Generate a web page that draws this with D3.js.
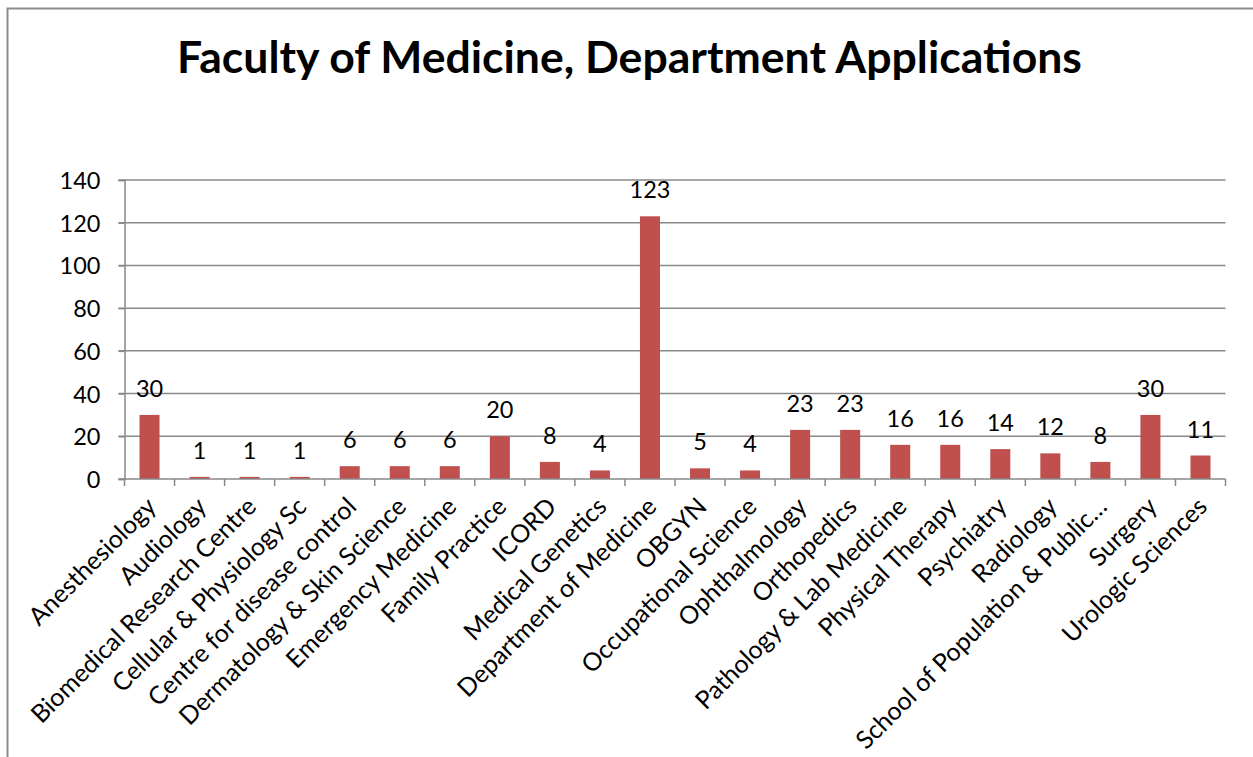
<!DOCTYPE html>
<html>
<head>
<meta charset="utf-8">
<script src="https://cdn.jsdelivr.net/npm/d3@7"></script>
<style>
  html, body { margin: 0; padding: 0; background: #fff; }
  svg { display: block; }
</style>
</head>
<body>
<svg id="chart" width="1253" height="757"></svg>
<script>
const titleText = "Faculty of Medicine, Department Applications";
const categories = [
  "Anesthesiology", "Audiology", "Biomedical Research Centre", "Cellular & Physiology Sc",
  "Centre for disease control", "Dermatology & Skin Science", "Emergency Medicine",
  "Family Practice", "ICORD", "Medical Genetics", "Department of Medicine", "OBGYN",
  "Occupational Science", "Ophthalmology", "Orthopedics", "Pathology & Lab Medicine",
  "Physical Therapy", "Psychiatry", "Radiology", "School of Population & Public…",
  "Surgery", "Urologic Sciences"
];
const values = [30, 1, 1, 1, 6, 6, 6, 20, 8, 4, 123, 5, 4, 23, 23, 16, 16, 14, 12, 8, 30, 11];
const yTicks = [0, 20, 40, 60, 80, 100, 120, 140];

(function () {
const svg = d3.select("#chart");
const font = "Lato, 'Open Sans', sans-serif";
const gridColor = "#898989";
const barColor = "#C0504D";

// outer border
svg.append("rect")
  .attr("x", 7.5).attr("y", 8.5).attr("width", 1260).attr("height", 770)
  .attr("fill", "none").attr("stroke", "#8c8c8c").attr("stroke-width", 2);

const pLeft = 124.5, pRight = 1225.5, pTop = 180, pBottom = 479;
const x = d3.scaleBand().domain(categories).range([pLeft, pRight]).paddingInner(0.6).paddingOuter(0.3);
const xb = d3.scaleBand().domain(categories).range([pLeft, pRight]).padding(0);
const y = d3.scaleLinear().domain([0, 140]).range([pBottom, pTop]);

// gridlines
svg.append("g").selectAll("line").data(yTicks.filter(d => d > 0)).join("line")
  .attr("x1", pLeft - 6).attr("x2", pRight)
  .attr("y1", d => y(d)).attr("y2", d => y(d))
  .attr("stroke", gridColor).attr("stroke-width", 1.5);

// y axis
const yAxis = svg.append("g").attr("transform", `translate(${pLeft},0)`)
  .call(d3.axisLeft(y).tickValues(yTicks).tickSize(6).tickPadding(18).tickFormat(d3.format("d")));
yAxis.select(".domain").attr("stroke", gridColor).attr("stroke-width", 1.5);
yAxis.selectAll(".tick line").attr("stroke", gridColor).attr("stroke-width", 1.5);
yAxis.selectAll(".tick text").attr("font-family", font).attr("font-size", 23.5).attr("fill", "#000")
  .attr("dy", "0.36em");

// bars
svg.append("g").selectAll("rect").data(values).join("rect")
  .attr("x", (d, i) => x(categories[i]))
  .attr("width", x.bandwidth())
  .attr("y", d => y(d))
  .attr("height", d => pBottom - y(d))
  .attr("fill", barColor);

// x axis
svg.append("line").attr("x1", pLeft - 6).attr("x2", pRight).attr("y1", pBottom).attr("y2", pBottom)
  .attr("stroke", gridColor).attr("stroke-width", 1.5);
const boundaries = categories.map(c => xb(c) + xb.bandwidth());
svg.append("g").selectAll("line").data([pLeft].concat(boundaries)).join("line")
  .attr("x1", d => d).attr("x2", d => d).attr("y1", pBottom).attr("y2", pBottom + 7)
  .attr("stroke", gridColor).attr("stroke-width", 1.5);

// data labels
svg.append("g").selectAll("text").data(values).join("text")
  .attr("x", (d, i) => x(categories[i]) + x.bandwidth() / 2)
  .attr("y", d => y(d) - 18)
  .attr("text-anchor", "middle")
  .attr("font-family", font).attr("font-size", 23.5).attr("fill", "#000")
  .text(d => d);

// category labels
svg.append("g").selectAll("text").data(categories).join("text")
  .attr("transform", d => `translate(${xb(d) + xb.bandwidth() / 2 + 2},${pBottom + 23}) rotate(-45)`)
  .attr("text-anchor", "end")
  .attr("dy", "0.35em")
  .attr("font-family", font).attr("font-size", 25).attr("fill", "#000")
  .text(d => d);

// title
const t = svg.append("text")
  .attr("x", (177 + 1082) / 2).attr("y", 73)
  .attr("text-anchor", "middle")
  .attr("font-family", font).attr("font-weight", "bold").attr("font-size", 40)
  .attr("fill", "#000").text(titleText);
const w = t.node().getComputedTextLength();
t.attr("font-size", 40 * 905 / w);
})();
</script>
</body>
</html>
